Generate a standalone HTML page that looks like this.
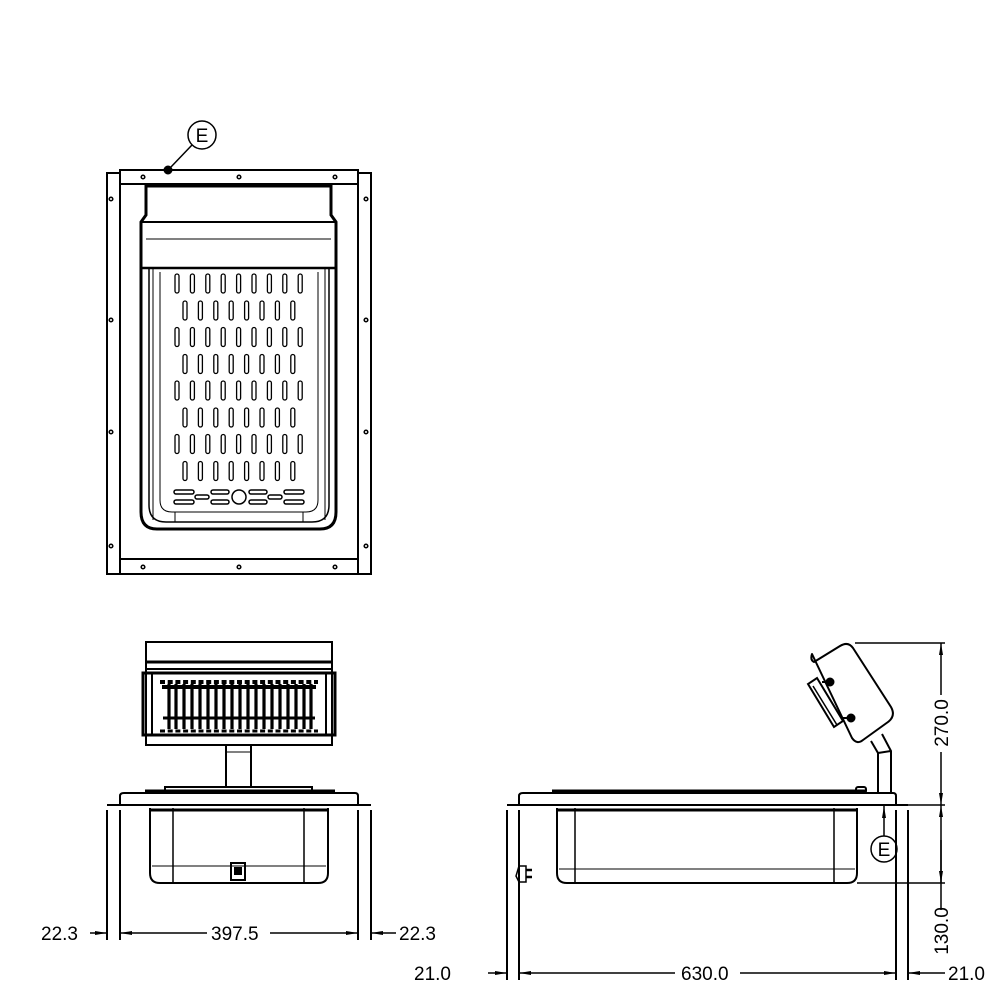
<!DOCTYPE html>
<html><head><meta charset="utf-8"><style>html,body{margin:0;padding:0;background:#fff}svg{display:block}</style></head>
<body>
<svg width="1000" height="1000" viewBox="0 0 1000 1000" xmlns="http://www.w3.org/2000/svg" fill="none" stroke="#000" font-family="Liberation Sans, sans-serif">
<defs>
<marker id="ar" markerWidth="12" markerHeight="6" refX="12" refY="3" orient="auto" markerUnits="userSpaceOnUse"><path d="M0,1 L12,3 L0,5 Z" fill="#000" stroke="none"/></marker>
</defs>
<!-- TOP VIEW -->
<g stroke-width="2">
<rect x="107" y="173" width="13" height="401"/>
<rect x="358" y="173" width="13" height="401"/>
<rect x="120" y="170" width="238" height="14"/>
<rect x="120" y="559" width="238" height="15"/>
<line x1="120" y1="184" x2="120" y2="559"/><line x1="358" y1="184" x2="358" y2="559"/>
</g>
<g fill="none" stroke-width="1.5">
<circle cx="143" cy="177" r="1.8"/><circle cx="239" cy="177" r="1.8"/><circle cx="335" cy="177" r="1.8"/>
<circle cx="143" cy="567" r="1.8"/><circle cx="239" cy="567" r="1.8"/><circle cx="335" cy="567" r="1.8"/>
<circle cx="111" cy="199" r="1.8"/><circle cx="111" cy="320" r="1.8"/><circle cx="111" cy="432" r="1.8"/><circle cx="111" cy="546" r="1.8"/>
<circle cx="366" cy="199" r="1.8"/><circle cx="366" cy="320" r="1.8"/><circle cx="366" cy="432" r="1.8"/><circle cx="366" cy="546" r="1.8"/>
</g>
<path d="M146,186 L331,186 L331,215 L336,222 L336,512 Q336,529 320,529 L157,529 Q141,529 141,512 L141,222 L146,215 Z" stroke-width="3"/>
<line x1="141" y1="222" x2="336" y2="222" stroke-width="2"/>
<line x1="146" y1="239" x2="331" y2="239" stroke-width="1"/>
<line x1="141" y1="268" x2="336" y2="268" stroke-width="2.5"/>
<path d="M149,268 L149,505 Q149,522 166,522 L312,522 Q329,522 329,505 L329,268" stroke-width="1.5"/>
<path d="M160,272 L160,500 Q160,512 172,512 L306,512 Q318,512 318,500 L318,272" stroke-width="1"/>
<line x1="153" y1="268" x2="153" y2="520" stroke-width="1"/><line x1="325" y1="268" x2="325" y2="520" stroke-width="1"/>
<line x1="175" y1="512" x2="175" y2="522" stroke-width="1"/><line x1="303" y1="512" x2="303" y2="522" stroke-width="1"/>
<g stroke-width="1.3">
<g id="ro">
<rect x="175" y="274" width="4" height="19" rx="2"/><rect x="190.4" y="274" width="4" height="19" rx="2"/><rect x="205.8" y="274" width="4" height="19" rx="2"/><rect x="221.2" y="274" width="4" height="19" rx="2"/><rect x="236.6" y="274" width="4" height="19" rx="2"/><rect x="252" y="274" width="4" height="19" rx="2"/><rect x="267.4" y="274" width="4" height="19" rx="2"/><rect x="282.8" y="274" width="4" height="19" rx="2"/><rect x="298.2" y="274" width="4" height="19" rx="2"/>
</g>
<g id="re">
<rect x="183" y="301" width="4" height="19" rx="2"/><rect x="198.4" y="301" width="4" height="19" rx="2"/><rect x="213.8" y="301" width="4" height="19" rx="2"/><rect x="229.2" y="301" width="4" height="19" rx="2"/><rect x="244.6" y="301" width="4" height="19" rx="2"/><rect x="260" y="301" width="4" height="19" rx="2"/><rect x="275.4" y="301" width="4" height="19" rx="2"/><rect x="290.8" y="301" width="4" height="19" rx="2"/>
</g>
<use href="#ro" y="53.5"/><use href="#re" y="53.5"/>
<use href="#ro" y="107"/><use href="#re" y="107"/>
<use href="#ro" y="160.5"/><use href="#re" y="160.5"/>
</g>
<g stroke-width="1.5">
<rect x="174" y="490" width="20" height="4" rx="2"/><rect x="174" y="500" width="20" height="4" rx="2"/>
<rect x="195" y="495" width="14" height="4" rx="2"/>
<rect x="211" y="490" width="18" height="4" rx="2"/><rect x="211" y="500" width="18" height="4" rx="2"/>
<circle cx="239" cy="497" r="7"/>
<rect x="249" y="490" width="18" height="4" rx="2"/><rect x="249" y="500" width="18" height="4" rx="2"/>
<rect x="268" y="495" width="14" height="4" rx="2"/>
<rect x="284" y="490" width="20" height="4" rx="2"/><rect x="284" y="500" width="20" height="4" rx="2"/>
</g>
<circle cx="202" cy="135" r="14" stroke-width="1.5"/>
<text x="202" y="142" font-size="19" fill="#000" stroke="none" text-anchor="middle">E</text>
<line x1="192" y1="145" x2="170" y2="168" stroke-width="1.5"/>
<circle cx="168" cy="170" r="4" fill="#000"/>

<!-- FRONT VIEW -->
<g stroke-width="2">
<rect x="146" y="642" width="186" height="27"/>
<line x1="146" y1="662" x2="332" y2="662" stroke-width="3"/>
<rect x="146" y="669" width="186" height="76"/>
<rect x="143" y="673" width="192" height="62" stroke-width="3"/>
<rect x="152" y="673" width="174" height="62" stroke-width="2"/>
</g>
<line x1="160" y1="682" x2="318" y2="682" stroke-width="4" stroke-dasharray="5,2.7"/>
<line x1="160" y1="731" x2="318" y2="731" stroke-width="3" stroke-dasharray="5,2.7"/>
<rect x="163" y="686" width="152" height="2" stroke-width="2"/>
<line x1="163" y1="718" x2="315" y2="718" stroke-width="3"/>
<g stroke-width="3.2">
<line x1="169" y1="684" x2="169" y2="729"/><line x1="176" y1="684" x2="176" y2="729"/><line x1="184" y1="684" x2="184" y2="729"/><line x1="192" y1="684" x2="192" y2="729"/><line x1="200" y1="684" x2="200" y2="729"/><line x1="208" y1="684" x2="208" y2="729"/><line x1="216" y1="684" x2="216" y2="729"/><line x1="224" y1="684" x2="224" y2="729"/><line x1="232" y1="684" x2="232" y2="729"/><line x1="240" y1="684" x2="240" y2="729"/><line x1="248" y1="684" x2="248" y2="729"/><line x1="256" y1="684" x2="256" y2="729"/><line x1="264" y1="684" x2="264" y2="729"/><line x1="272" y1="684" x2="272" y2="729"/><line x1="280" y1="684" x2="280" y2="729"/><line x1="288" y1="684" x2="288" y2="729"/><line x1="296" y1="684" x2="296" y2="729"/><line x1="304" y1="684" x2="304" y2="729"/><line x1="311" y1="684" x2="311" y2="729"/>
</g>
<g stroke-width="2">
<rect x="226" y="745" width="25" height="42"/>
<line x1="226" y1="752" x2="251" y2="752" stroke-width="1"/>
<rect x="165" y="787" width="147" height="5"/>
<path d="M107,805 L120,805 L120,796 Q120,793 124,793 L355,793 Q358,793 358,796 L358,805 L371,805"/>
<line x1="145" y1="791" x2="335" y2="791" stroke-width="3"/>
<line x1="107" y1="805" x2="371" y2="805"/>
<path d="M150,808 L150,873 Q150,883 160,883 L318,883 Q328,883 328,873 L328,808" />
<line x1="150" y1="810" x2="328" y2="810" stroke-width="3"/>
<line x1="173" y1="808" x2="173" y2="883" stroke-width="1.5"/><line x1="304" y1="808" x2="304" y2="883" stroke-width="1.5"/>
<line x1="152" y1="866" x2="326" y2="866" stroke-width="1"/>
<rect x="231" y="863" width="14" height="17"/>
<rect x="235" y="868" width="6" height="6" fill="#000"/>
<line x1="107" y1="810" x2="107" y2="940"/><line x1="120" y1="810" x2="120" y2="940"/>
<line x1="358" y1="810" x2="358" y2="940"/><line x1="371" y1="810" x2="371" y2="940"/>
</g>
<g stroke-width="1.5">
<line x1="90" y1="933" x2="107" y2="933" marker-end="url(#ar)"/>
<line x1="207" y1="933" x2="120" y2="933" marker-end="url(#ar)"/>
<line x1="270" y1="933" x2="358" y2="933" marker-end="url(#ar)"/>
<line x1="396" y1="933" x2="371" y2="933" marker-end="url(#ar)"/>
</g>
<g font-size="19" fill="#000" stroke="none">
<text x="41" y="940">22.3</text>
<text x="211" y="940">397.5</text>
<text x="399" y="940">22.3</text>
</g>

<!-- SIDE VIEW -->
<g stroke-width="2">
<path d="M507,805 L519,805 L519,796 Q519,793 523,793 L893,793 Q896,793 896,796 L896,805 L908,805"/>
<line x1="552" y1="791" x2="866" y2="791" stroke-width="3"/>
<rect x="856" y="787" width="10" height="6" rx="2"/>
<line x1="507" y1="805" x2="908" y2="805"/>
<path d="M557,808 L557,873 Q557,883 567,883 L847,883 Q857,883 857,873 L857,808"/>
<line x1="557" y1="810" x2="857" y2="810" stroke-width="3"/>
<line x1="575" y1="808" x2="575" y2="883" stroke-width="1.5"/><line x1="834" y1="808" x2="834" y2="883" stroke-width="1.5"/>
<line x1="559" y1="869" x2="855" y2="869" stroke-width="1"/>
<line x1="857" y1="883" x2="945" y2="883" stroke-width="1.5"/>
<path d="M519,866 L526,866 L526,882 L519,882 L516,876 Z" stroke-width="1.5"/>
<line x1="526" y1="870" x2="532" y2="870" stroke-width="2.5"/><line x1="526" y1="877" x2="532" y2="877" stroke-width="2.5"/>
<line x1="507" y1="810" x2="507" y2="980"/><line x1="519" y1="810" x2="519" y2="980"/>
<line x1="896" y1="810" x2="896" y2="980"/><line x1="908" y1="810" x2="908" y2="980"/>
<path d="M812,654 Q810,660 814,662 L840,646 Q848,641 853,648 L891,707 Q896,716 888,722 L863,740 Q857,745 852,738 Z" stroke-linejoin="round"/>
<path d="M808,684 L834,727 L843,721 L817,678 Z" stroke-width="2"/>
<line x1="813" y1="686" x2="837" y2="725" stroke-width="1.5"/>
<circle cx="830" cy="682" r="3.5" fill="#000"/><circle cx="851" cy="718" r="3.5" fill="#000"/>
<path d="M822,682 L830,682 M843,718 L851,718" stroke-width="2"/>
<path d="M871,741 L878,753 L878,793 M882,734 L891,751 L891,793 M878,753 L891,751" stroke-width="2"/>
</g>
<line x1="884" y1="836" x2="884" y2="806" stroke-width="1.5" marker-end="url(#ar)"/>
<circle cx="884" cy="849" r="13" stroke-width="1.5"/>
<text x="884" y="856" font-size="19" fill="#000" stroke="none" text-anchor="middle">E</text>
<g stroke-width="1.5">
<line x1="855" y1="643" x2="945" y2="643"/>
<line x1="896" y1="805" x2="945" y2="805"/>
<line x1="941" y1="695" x2="941" y2="643" marker-end="url(#ar)"/>
<line x1="941" y1="752" x2="941" y2="805" marker-end="url(#ar)"/>
<line x1="941" y1="910" x2="941" y2="805" marker-end="url(#ar)"/>
<line x1="941" y1="840" x2="941" y2="883" marker-end="url(#ar)"/>
<line x1="488" y1="973" x2="507" y2="973" marker-end="url(#ar)"/>
<line x1="675" y1="973" x2="519" y2="973" marker-end="url(#ar)"/>
<line x1="740" y1="973" x2="896" y2="973" marker-end="url(#ar)"/>
<line x1="945" y1="973" x2="908" y2="973" marker-end="url(#ar)"/>
</g>
<g font-size="19" fill="#000" stroke="none">
<text x="414" y="980">21.0</text>
<text x="681" y="980">630.0</text>
<text x="948" y="980">21.0</text>
<text transform="translate(948,723) rotate(-90)" text-anchor="middle">270.0</text>
<text transform="translate(948,931) rotate(-90)" text-anchor="middle">130.0</text>
</g>
</svg>
</body></html>
